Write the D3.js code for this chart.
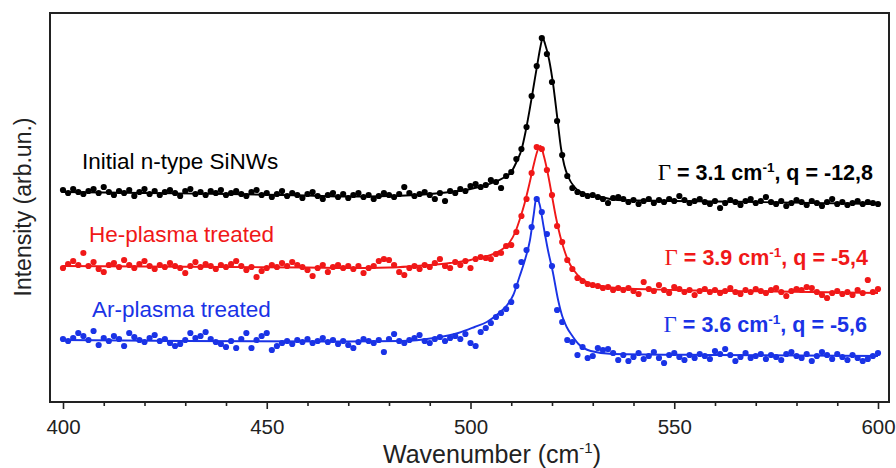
<!DOCTYPE html>
<html><head><meta charset="utf-8">
<script src="https://cdn.jsdelivr.net/npm/d3@7"></script>
<style>body{margin:0;background:#fff}svg{display:block}text{white-space:pre}</style>
</head><body><svg id="c" width="896" height="468"></svg>
<script>
// ---------- data ----------
const wavenumberStart = 400, wavenumberStep = 1.25;   // measured spectra sampling (cm-1)

const initialCounts = [212,209,213,210,208,211,213,209,215,210,
 207,211,209,212,206,210,213,208,211,207,
 210,212,209,206,211,213,208,210,207,211,
 209,212,207,209,211,208,206,210,212,207,
 209,205,208,211,206,209,207,204,208,210,
 206,203,207,209,205,208,204,207,209,205,
 207,203,206,209,207,205,208,215,209,206,
 208,210,207,203,209,201,211,209,213,211,
 216,218,215,217,222,220,214,226,230,243,
 253,275,306,336,364,348,320,281,247,226,
 214,210,208,206,207,205,203,199,204,205,
 203,200,202,198,201,203,199,202,200,203,
 201,206,202,199,201,203,200,198,201,194,
 199,202,200,197,201,203,199,201,205,200,
 198,201,196,199,202,200,197,201,199,196,
 200,203,198,200,197,199,201,198,200,199,
 198];

const heCounts = [134,138,141,137,149,136,140,133,130,137,
 139,135,142,137,134,138,141,136,133,137,
 135,139,136,134,129,136,140,135,138,136,
 133,137,135,138,141,136,132,135,125,131,
 134,137,135,139,136,140,137,135,132,126,
 134,137,130,135,137,134,136,133,136,129,
 134,136,141,143,142,137,130,127,134,136,
 133,137,135,139,143,136,134,140,137,141,
 134,143,145,144,143,148,149,156,157,170,
 186,203,229,255,253,232,207,176,160,142,
 133,124,121,118,117,116,114,115,112,114,
 112,114,111,108,120,113,111,117,112,109,
 115,113,110,112,107,111,113,110,112,109,
 111,114,110,108,112,110,113,111,109,112,
 114,110,106,111,113,112,115,114,110,107,
 104,109,111,108,110,107,112,109,122,110,
 113];

const arCounts = [63,61,64,69,66,62,71,57,64,61,
 66,63,56,69,65,62,60,64,67,61,
 63,59,56,58,62,69,64,66,70,63,
 60,58,55,61,54,63,69,54,62,66,
 69,52,56,59,61,58,62,60,63,59,
 61,64,60,62,58,61,57,54,60,63,
 61,59,62,50,63,68,61,59,62,64,
 67,61,59,63,65,61,64,66,63,68,
 59,56,70,74,79,85,89,93,100,116,
 140,152,175,203,190,168,136,92,80,62,
 60,47,55,44,46,54,52,53,49,42,
 47,41,45,49,43,46,50,44,39,47,
 49,45,42,47,44,48,46,43,51,48,
 53,47,41,45,49,44,46,48,43,47,
 45,42,48,50,46,44,48,41,46,50,
 47,43,48,45,42,47,44,41,43,46,
 49];

// Fano fit curves (wavenumber, intensity)
const initialFitX = [400,420,440,460,470,480,490,495,500,503,506,508,510,511.5,512.5,513.5,514.5,515.5,516.5,517.2,517.7,518.3,519.3,520.3,521.3,522.2,523,524,525.5,527,529,532,536,550,570,600];
const initialFitY = [210,209,208,206.5,205.5,206,208,210,213,216,220,224,230,242,252,270,292,316,340,356,364,358,342,317,284,254,237,225,215,210,207,205,202,201,200,198];

const heFitX = [400,420,440,460,470,480,485,490,495,500,502,505,507.5,509.5,511,512.2,513.3,514.5,515.5,516.5,517.2,518,519,520,521,522,523,524,525.5,527,529,532,536,550,575,600];
const heFitY = [136,135.5,135,134.5,134,134.5,135.5,137,139,142,144,147,152,159,170,184,199,219,237,252,256,246,228,206,184,166,152,141,131,124,119,116,114,112,110.5,109];

const arFitX = [400,430,466,483,491,497,501,504,507,509,510.5,512,513.5,514.6,515.5,516.2,517,518,519,520.2,521.5,522.5,523.6,525,526.5,529.5,535,560,600];
const arFitY = [62,61,60.5,61,64,69,75,80,89,97,107,125,144,162,187,205,197,174,152,130,102,86,75,66,58,51,48,47,46];

const seriesLabels = ["Initial n-type SiNWs", "He-plasma treated", "Ar-plasma treated"];
const gammaValues = ["3.1", "3.9", "3.6"];
const qValues = ["-12,8", "-5,4", "-5,6"];
const seriesColors = ["#000000", "#f01818", "#1a33e6"];

const xMajorTicks = [400, 450, 500, 550, 600];
const xMinorTicks = [410,420,430,440,460,470,480,490,510,520,530,540,560,570,580,590];

// ---------- drawing ----------
const svg = d3.select("#c");
const frame = {left: 50, right: 889, top: 13, bottom: 402};
const x = d3.scaleLinear().domain([400, 600]).range([63, 878]);
const y = d3.scaleLinear().domain([0, 389]).range([402, 13]);

const sans = "'Liberation Sans', Arial, Helvetica, sans-serif";

const series = [
  {counts: initialCounts, fx: initialFitX, fy: initialFitY},
  {counts: heCounts, fx: heFitX, fy: heFitY},
  {counts: arCounts, fx: arFitX, fy: arFitY}
];
const labelPos = [{x: 82, y: 169}, {x: 89, y: 242}, {x: 92, y: 317}];
const annPos = [{x: 873, y: 180}, {x: 868, y: 265}, {x: 867, y: 332}];

const line = d3.line().x(d => x(d[0])).y(d => y(d[1])).curve(d3.curveMonotoneX);

series.forEach((s, k) => {
  const col = seriesColors[k];
  const pts = s.counts.map((v, i) => [wavenumberStart + i * wavenumberStep, v]);
  svg.append("g").selectAll("circle").data(pts).join("circle")
    .attr("cx", d => x(d[0])).attr("cy", d => y(d[1])).attr("r", 3.1)
    .attr("fill", col);
  svg.append("path").datum(s.fx.map((w, i) => [w, s.fy[i]]))
    .attr("d", line).attr("fill", "none").attr("stroke", col).attr("stroke-width", 1.9);

  svg.append("text").attr("x", labelPos[k].x).attr("y", labelPos[k].y)
    .attr("fill", col).style("font-family", sans).style("font-size", "22.5px")
    .text(seriesLabels[k]);

  const t = svg.append("text").attr("x", annPos[k].x).attr("y", annPos[k].y)
    .attr("text-anchor", "end").attr("fill", col)
    .style("font-family", sans).style("font-weight", "bold").style("font-size", "21.5px");
  t.append("tspan").style("font-family", "'Liberation Serif', 'Times New Roman', serif")
    .style("font-weight", "normal").style("font-size", "23px").text("\u0393");
  t.append("tspan").text(" = " + gammaValues[k] + " cm");
  t.append("tspan").attr("dy", -8).style("font-size", "13.5px").text("-1");
  t.append("tspan").attr("dy", 8).text(", q = " + qValues[k]);
});

// axis
const axisG = svg.append("g").attr("transform", `translate(0,${frame.bottom})`);
axisG.call(d3.axisBottom(x).tickValues(xMajorTicks).tickSize(7).tickFormat(d3.format("d")));
const minorG = svg.append("g").attr("transform", `translate(0,${frame.bottom})`);
minorG.call(d3.axisBottom(x).tickValues(xMinorTicks).tickSize(4).tickFormat(""));
[axisG, minorG].forEach(g => {
  g.select(".domain").remove();
  g.selectAll(".tick line").attr("stroke", "#222").attr("stroke-width", 1.6);
});
axisG.selectAll(".tick text").attr("fill", "#222").attr("dy", null).attr("y", 32)
  .style("font-family", sans).style("font-size", "20.5px");

// frame
svg.append("rect").attr("x", frame.left).attr("y", frame.top)
  .attr("width", frame.right - frame.left).attr("height", frame.bottom - frame.top)
  .attr("fill", "none").attr("stroke", "#222").attr("stroke-width", 2);

// axis titles
const xt = svg.append("text").attr("x", 383).attr("y", 463).attr("fill", "#222")
  .style("font-family", sans).style("font-size", "25px");
xt.append("tspan").text("Wavenumber (cm");
xt.append("tspan").attr("dy", -10).style("font-size", "15px").text("-1");
xt.append("tspan").attr("dy", 10).text(")");

svg.append("text").attr("transform", "translate(31,207) rotate(-90)")
  .attr("text-anchor", "middle").attr("fill", "#222")
  .style("font-family", sans).style("font-size", "23px")
  .text("Intensity (arb.un.)");
</script></body></html>
